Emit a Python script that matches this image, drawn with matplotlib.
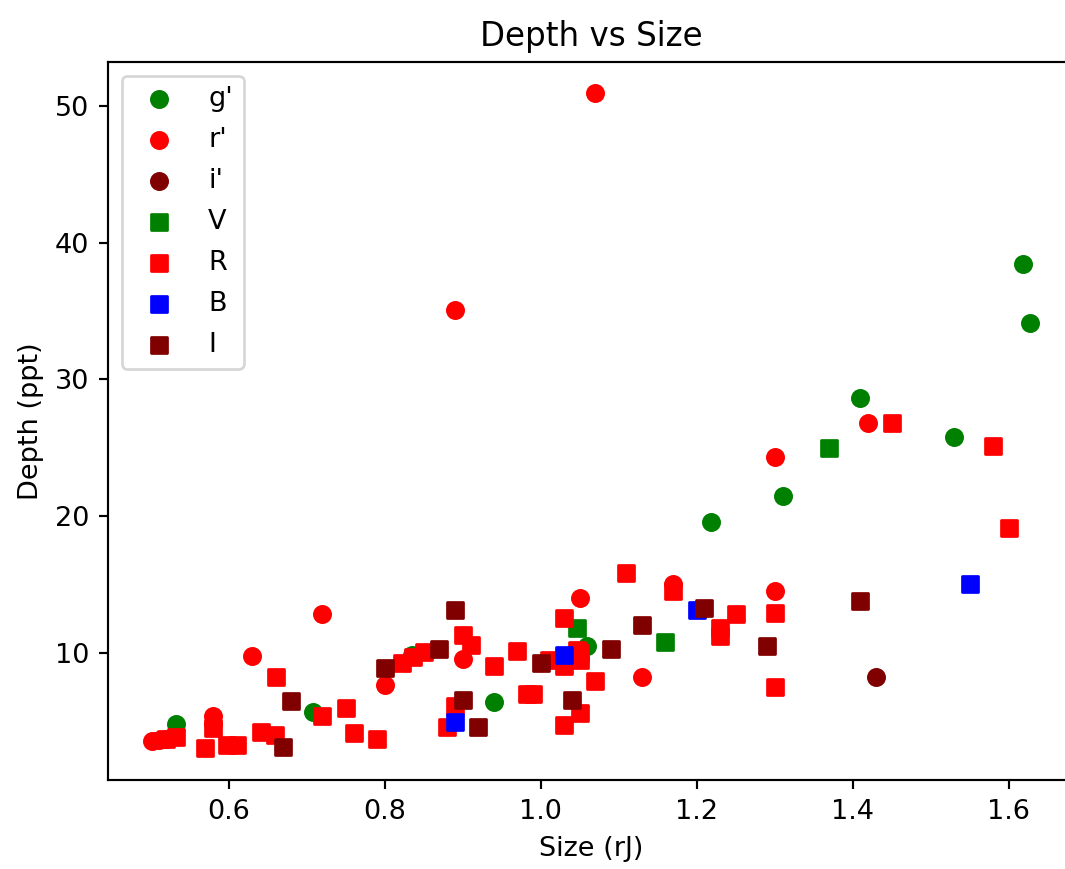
import matplotlib
matplotlib.use("Agg")
import matplotlib.pyplot as plt

# g' circles
g_size = [0.532, 0.708, 0.835, 0.94, 1.06, 1.219, 1.311, 1.41, 1.53, 1.618, 1.628]
g_depth = [4.8, 5.7, 9.85, 6.4, 10.5, 19.6, 21.5, 28.6, 25.8, 38.4, 34.1]

# r' circles
r_size = [0.501, 0.51, 0.52, 0.58, 0.58, 0.63, 0.72, 0.80, 0.89, 0.90, 1.05,
          1.07, 1.13, 1.17, 1.30, 1.30, 1.42]
r_depth = [3.55, 3.6, 3.7, 5.4, 4.8, 9.8, 12.85, 7.66, 35.1, 9.55, 14.0,
           50.95, 8.25, 15.0, 24.3, 14.5, 26.8]

# i' circles
i_size = [1.43]
i_depth = [8.25]

# V squares
V_size = [1.046, 1.16, 1.37]
V_depth = [11.8, 10.8, 25.0]

# R squares
R_size = [0.52, 0.532, 0.57, 0.58, 0.598, 0.61, 0.641, 0.659, 0.66, 0.72,
          0.75, 0.76, 0.79, 0.822, 0.836, 0.85, 0.88, 0.89, 0.90, 0.91,
          0.94, 0.97, 0.982, 0.99, 1.01, 1.03, 1.03, 1.03, 1.046, 1.05,
          1.05, 1.05, 1.07, 1.11, 1.17, 1.23, 1.23, 1.25, 1.30, 1.30,
          1.451, 1.58, 1.60]
R_depth = [3.7, 3.85, 3.05, 4.5, 3.25, 3.25, 4.2, 4.0, 8.25, 5.4,
           6.0, 4.15, 3.7, 9.27, 9.7, 10.07, 4.6, 6.1, 11.3, 10.6,
           9.0, 10.1, 7.0, 7.0, 9.5, 9.0, 12.55, 4.7, 10.2, 9.5,
           5.6, 10.0, 7.95, 15.85, 14.5, 11.8, 11.2, 12.85, 12.9, 7.5,
           26.8, 25.1, 19.1]

# B squares
B_size = [0.89, 1.03, 1.20, 1.551]
B_depth = [4.95, 9.85, 13.1, 15.0]

# I squares
I_size = [0.669, 0.68, 0.80, 0.87, 0.89, 0.90, 0.92, 1.0, 1.04, 1.09,
          1.13, 1.21, 1.29, 1.41]
I_depth = [3.1, 6.5, 8.9, 10.3, 13.1, 6.56, 4.6, 9.27, 6.56, 10.3,
           12.0, 13.3, 10.5, 13.8]

dpi = 195
fig = plt.figure(figsize=(1065 / dpi, 869 / dpi), dpi=dpi)
ax = fig.add_axes([108 / 1065, (869 - 780) / 869, (1074 - 108) / 1065, (780 - 62) / 869])

ax.scatter(g_size, g_depth, c="green", marker="o", label="g'")
ax.scatter(r_size, r_depth, c="red", marker="o", label="r'")
ax.scatter(i_size, i_depth, c="maroon", marker="o", label="i'")
ax.scatter(V_size, V_depth, c="green", marker="s", label="V")
ax.scatter(R_size, R_depth, c="red", marker="s", label="R")
ax.scatter(B_size, B_depth, c="blue", marker="s", label="B")
ax.scatter(I_size, I_depth, c="maroon", marker="s", label="I")

ax.set_xlim(0.445, 1.684)
ax.set_ylim(0.7, 53.2)
ax.set_title("Depth vs Size")
ax.set_xlabel("Size (rJ)")
ax.set_ylabel("Depth (ppt)")
ax.legend(loc="upper left", labelspacing=0.55)

fig.savefig("out.png", dpi=dpi)
